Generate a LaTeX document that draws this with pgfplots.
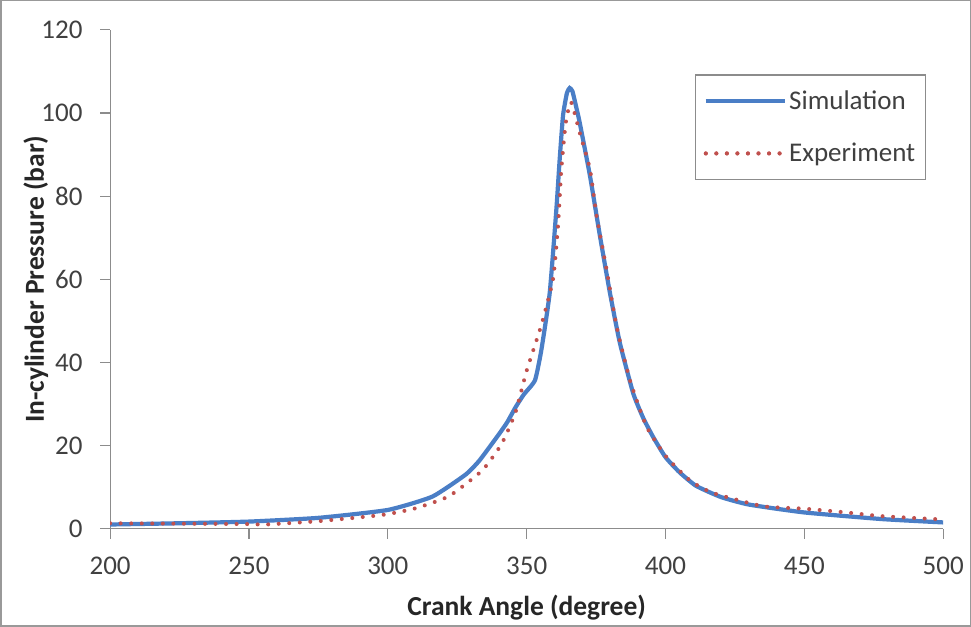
\documentclass[border=0pt]{standalone}
\usepackage{fontspec}
\setmainfont{Carlito}
\usepackage{pgfplots}
\pgfplotsset{compat=1.18}
\usetikzlibrary{calc}
\definecolor{simblue}{HTML}{4A7EC6}
\definecolor{expred}{HTML}{C0504D}
\definecolor{axgray}{HTML}{8C8C8C}
\definecolor{txt}{HTML}{404040}
\begin{document}
\begin{tikzpicture}
\begin{axis}[
  scale only axis,
  width=830bp, height=497bp,
  xmin=200, xmax=500, ymin=0, ymax=120,
  xtick={200,250,...,500}, ytick={0,20,...,120},
  axis lines=left,
  axis line style={-, draw=axgray, line width=1.2bp},
  tick style={draw=axgray, line width=1.2bp},
  tick align=outside, major tick length=10bp,
  /pgf/number format/assume math mode=true,
  ticklabel style={font=\fontsize{27}{32}\selectfont, text=txt},
  xticklabel style={yshift=-15bp},
  yticklabel style={xshift=-14bp},
  xlabel={\textbf{Crank Angle (degree)}},
  ylabel={\textbf{In-cylinder Pressure (bar)}},
  label style={font=\fontsize{27.5}{32}\selectfont, text=black!85},
  xlabel style={at={(rel axis cs:0.5,0)}, anchor=center, yshift=-79bp},
  ylabel style={at={(rel axis cs:0,0.5)}, anchor=center, yshift=74bp},
  legend style={at={(rel axis cs:0.702,0.911)}, anchor=north west, draw=axgray, line width=1.5bp,
    font=\fontsize{27}{32}\selectfont, text=txt, inner xsep=8bp, inner ysep=14bp,
    row sep=28bp, cells={anchor=west}},
  legend image code/.code={\draw[#1] (0bp,0bp) -- (75bp,0bp); \path (0bp,0bp) -- (79bp,0bp);},
]
\addplot[simblue, line width=4.2bp, smooth, tension=0.3] coordinates {
(200,1.0) (225,1.3) (250,1.7) (275,2.6) (300,4.5) (316,7.7) (328,13) (333,16.4)
(340,22.7) (343,25.6) (346,29.2) (349,32.3) (353,35.7) (355.3,43) (358.3,56.7)
(360.7,76.8) (361.9,88.9) (363.1,99.4) (364.5,104.8) (365.5,106) (366.5,105.2)
(368,101) (369.1,97.7) (372.8,84.9) (376.4,70.4) (380,56.7) (383.6,44.6)
(388.4,32.5) (392,26.6) (395.6,22) (400,17.2) (405,13.6) (411,10.3) (420,7.6) (430,5.8)
(450,3.9) (478,2.3) (500,1.5)};
\addlegendentry{Simulation}
\addplot[expred, line width=4bp, line cap=round, dash pattern=on 0bp off 10.5bp, smooth, tension=0.3] coordinates {
(200,1.3) (225,1.2) (250,1.1) (256,1.0) (275,1.8) (298,3.3) (310,4.9) (322,7.8)
(334,14) (341,20.4) (346,28) (350,38) (355.3,49) (359.5,60) (361.3,72.8)
(362.5,86.5) (364.1,97.7) (366,102.6) (369.1,95.3) (372.8,86.5) (375.2,75.2)
(378.8,62.3) (382.4,48.6) (387.2,35.7) (393.2,24.5) (400.4,17.2) (409,11.5)
(417,8.6) (435,5.4) (450,4.8) (465,3.9) (478,3.0) (500,2.2)};
\addlegendentry{Experiment}
\coordinate (ll) at (rel axis cs:0,0);
\coordinate (ur) at (rel axis cs:1,1);
\end{axis}
\draw[black!40, line width=1.5bp] ($(ll)+(-109bp,-97bp)$) rectangle ($(ur)+(27bp,29bp)$);
\end{tikzpicture}
\end{document}
